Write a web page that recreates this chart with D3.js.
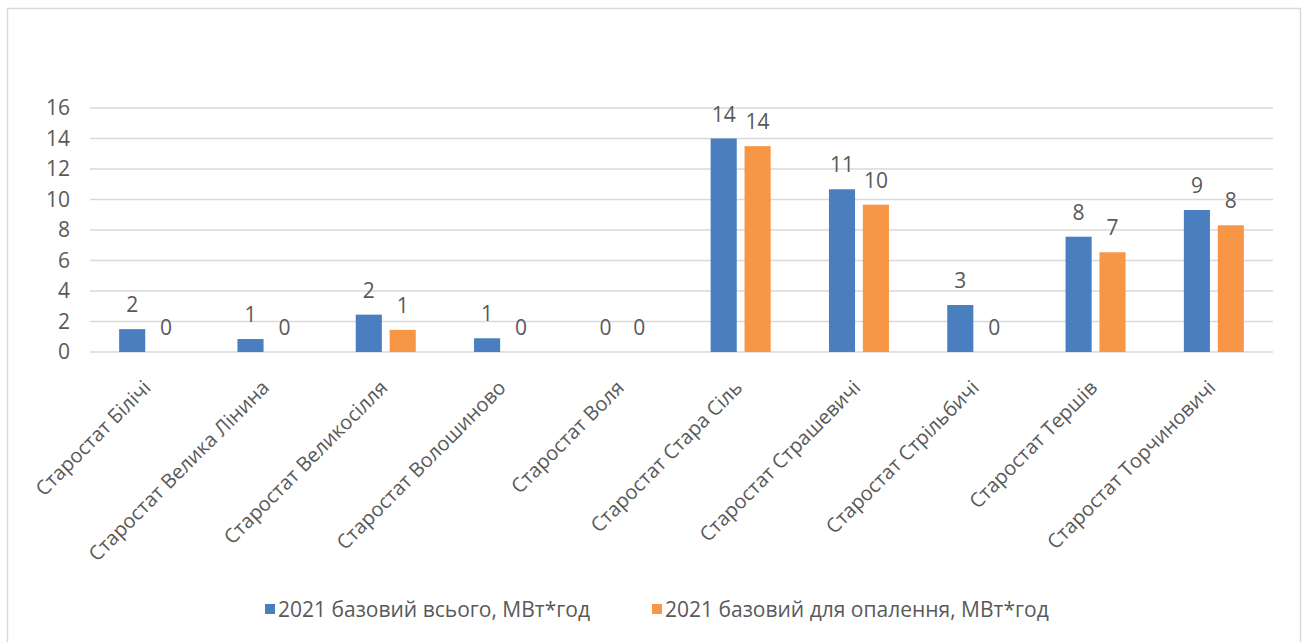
<!DOCTYPE html>
<html>
<head>
<meta charset="utf-8">
<script src="https://cdn.jsdelivr.net/npm/d3@7"></script>
<style>
  html, body { margin: 0; padding: 0; background: #fff; }
  svg { display: block; }
  text { font-family: "Open Sans", "Noto Sans", sans-serif; fill: #595959; }
</style>
</head>
<body>
<svg id="chart" width="1303" height="642"></svg>
<script>
const categories = [
  "Старостат Білічі",
  "Старостат Велика Лінина",
  "Старостат Великосілля",
  "Старостат Волошиново",
  "Старостат Воля",
  "Старостат Стара Сіль",
  "Старостат Страшевичі",
  "Старостат Стрільбичі",
  "Старостат Тершів",
  "Старостат Торчиновичі"
];
const seriesNames = [
  "2021 базовий всього, МВт*год",
  "2021 базовий для опалення, МВт*год"
];
const totalValues   = [1.5, 0.85, 2.45, 0.9, 0, 14.0, 10.67, 3.08, 7.56, 9.31];
const heatingValues = [0, 0, 1.45, 0, 0, 13.5, 9.66, 0, 6.54, 8.31];
const yTicks = [0, 2, 4, 6, 8, 10, 12, 14, 16];

const colors = ["#4a7ebf", "#f79646"];
const series = [totalValues, heatingValues];

const svg = d3.select("#chart");

// outer frame
svg.append("rect")
  .attr("x", 7.5).attr("y", 8.5)
  .attr("width", 1293).attr("height", 650)
  .attr("fill", "#fff")
  .attr("stroke", "#d9d9d9").attr("stroke-width", 1.5);

const plot = { left: 90, right: 1273, top: 108, bottom: 352 };

const x0 = d3.scaleBand().domain(categories).range([plot.left, plot.right]).padding(0);
const x1 = d3.scaleBand().domain(d3.range(series.length))
  .range([x0.bandwidth() / 2 - 30, x0.bandwidth() / 2 + 30]).paddingInner(0.23);
const y = d3.scaleLinear().domain([0, 16]).range([plot.bottom, plot.top]);

// gridlines
svg.append("g").selectAll("line").data(yTicks).join("line")
  .attr("x1", plot.left).attr("x2", plot.right)
  .attr("y1", d => y(d)).attr("y2", d => y(d))
  .attr("stroke", "#d9d9d9").attr("stroke-width", 1.5);

// y axis labels
const yAxis = d3.axisLeft(y).tickValues(yTicks).tickSize(0).tickPadding(0);
const gy = svg.append("g").attr("transform", `translate(70,0)`).call(yAxis);
gy.select(".domain").remove();
gy.selectAll("text").attr("font-size", 21).attr("fill", "#595959")
  .style("font-family", '"Open Sans", sans-serif');

// bars
series.forEach((vals, si) => {
  const g = svg.append("g");
  g.selectAll("rect").data(vals).join("rect")
    .attr("x", (d, i) => x0(categories[i]) + x1(si))
    .attr("width", x1.bandwidth())
    .attr("y", d => y(d))
    .attr("height", d => y(0) - y(d))
    .attr("fill", colors[si]);
  g.selectAll("text").data(vals).join("text")
    .attr("x", (d, i) => x0(categories[i]) + x1(si) + x1.bandwidth() / 2)
    .attr("y", d => y(d) - 17)
    .attr("text-anchor", "middle")
    .attr("font-size", 21)
    .text(d => d3.format(".0f")(d));
});

// x axis category labels
const xAxis = d3.axisBottom(x0).tickSize(0).tickPadding(0);
const gx = svg.append("g").attr("transform", `translate(0,${plot.bottom})`).call(xAxis);
gx.select(".domain").remove();
gx.selectAll("text")
  .attr("font-size", 20)
  .attr("fill", "#595959")
  .style("font-family", '"Open Sans", sans-serif')
  .attr("text-anchor", "end")
  .attr("dy", null)
  .attr("y", 0)
  .attr("transform", "translate(3,37) rotate(-45)");

// legend
const legendItems = [
  { x: 265, name: seriesNames[0], color: colors[0] },
  { x: 652, name: seriesNames[1], color: colors[1] }
];
const lg = svg.append("g");
legendItems.forEach(it => {
  lg.append("rect").attr("x", it.x).attr("y", 604).attr("width", 10).attr("height", 10).attr("fill", it.color);
  lg.append("text").attr("x", it.x + 13).attr("y", 617).attr("font-size", 21).text(it.name);
});
</script>
</body>
</html>
